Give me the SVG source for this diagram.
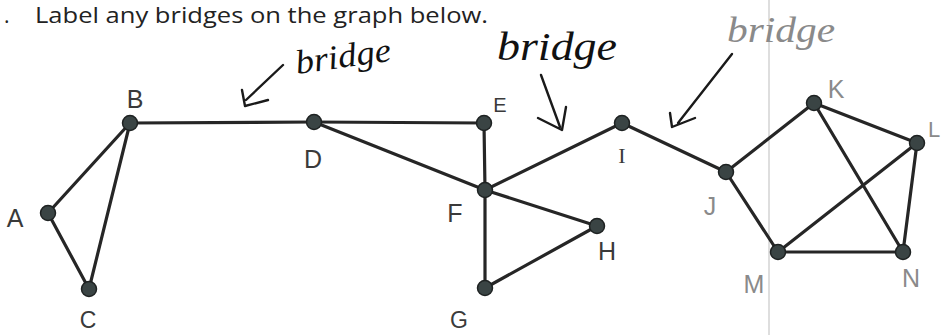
<svg xmlns="http://www.w3.org/2000/svg" width="944" height="335" viewBox="0 0 944 335">
<style>
.edge{stroke:#262626;stroke-width:3.2;stroke-linecap:round}
.node{fill:#3a4444;stroke:#1e2222;stroke-width:1.5}
.lbl{font-family:"Liberation Sans",Arial,sans-serif;font-size:25px;fill:#3a3a3a;text-anchor:middle}
.pen{fill:#8a8a8a}
.hw{font-family:"Liberation Serif","Times New Roman",serif;font-style:italic;fill:#111}
.arrow{fill:none;stroke:#1a1a1a;stroke-width:2.4;stroke-linecap:round;stroke-linejoin:round}
.title{font-family:"Open Sans","Liberation Sans",sans-serif;font-size:21px;fill:#222}
</style>
<rect width="944" height="335" fill="#ffffff"/>
<line x1="769" y1="0" x2="769" y2="335" stroke="#c8c8c8" stroke-width="1.2"/>
<text class="title" x="4" y="23">.</text>
<text class="title" x="35" y="23" textLength="453" lengthAdjust="spacingAndGlyphs">Label any bridges on the graph below.</text>
<g id="connectors">
<line class="edge" x1="48" y1="213" x2="130" y2="123"/>
<line class="edge" x1="48" y1="213" x2="89" y2="289"/>
<line class="edge" x1="130" y1="123" x2="89" y2="289"/>
<line class="edge" x1="130" y1="123" x2="314" y2="122"/>
<line class="edge" x1="314" y1="122" x2="484" y2="123"/>
<line class="edge" x1="314" y1="122" x2="485" y2="190"/>
<line class="edge" x1="484" y1="123" x2="485" y2="190"/>
<line class="edge" x1="485" y1="190" x2="485" y2="288"/>
<line class="edge" x1="485" y1="190" x2="597" y2="226"/>
<line class="edge" x1="485" y1="288" x2="597" y2="226"/>
<line class="edge" x1="485" y1="190" x2="622" y2="123"/>
<line class="edge" x1="622" y1="123" x2="726" y2="172"/>
<line class="edge" x1="726" y1="172" x2="814" y2="103"/>
<line class="edge" x1="726" y1="172" x2="778" y2="252"/>
<line class="edge" x1="814" y1="103" x2="917" y2="143"/>
<line class="edge" x1="814" y1="103" x2="903" y2="252"/>
<line class="edge" x1="917" y1="143" x2="778" y2="252"/>
<line class="edge" x1="917" y1="143" x2="903" y2="252"/>
<line class="edge" x1="778" y1="252" x2="903" y2="252"/>
</g>
<g id="A"><circle class="node" cx="48" cy="213" r="7.5"/><text class="lbl" x="15" y="227">A</text></g>
<g id="B"><circle class="node" cx="130" cy="123" r="7.5"/><text class="lbl" x="135" y="108">B</text></g>
<g id="C"><circle class="node" cx="89" cy="289" r="7.5"/><text class="lbl" x="88" y="328" style="font-size:23px">C</text></g>
<g id="D"><circle class="node" cx="314" cy="122" r="7.5"/><text class="lbl" x="313" y="168">D</text></g>
<g id="E"><circle class="node" cx="484" cy="123" r="7.5"/><text class="lbl" x="500" y="112" style="font-size:20px">E</text></g>
<g id="F"><circle class="node" cx="485" cy="190" r="7.5"/><text class="lbl" x="455" y="222">F</text></g>
<g id="G"><circle class="node" cx="485" cy="288" r="7.5"/><text class="lbl" x="459" y="328" style="font-size:23px">G</text></g>
<g id="H"><circle class="node" cx="597" cy="226" r="7.5" fill="#222"/><text class="lbl" x="607" y="260">H</text></g>
<g id="I"><circle class="node" cx="622" cy="123" r="7.5"/><text class="lbl" x="622" y="163" style="font-family:'Liberation Serif',serif;font-size:22px">I</text></g>
<g id="J"><circle class="node" cx="726" cy="172" r="7.5"/><text class="lbl pen" x="710" y="215">J</text></g>
<g id="K"><circle class="node" cx="814" cy="103" r="7.5"/><text class="lbl pen" x="836" y="98">K</text></g>
<g id="L"><circle class="node" cx="917" cy="143" r="7.5"/><text class="lbl pen" x="928" y="137" style="text-anchor:start;font-size:22px">L</text></g>
<g id="M"><circle class="node" cx="778" cy="252" r="7.5"/><text class="lbl pen" x="754" y="293">M</text></g>
<g id="N"><circle class="node" cx="903" cy="252" r="7.5"/><text class="lbl pen" x="911" y="287">N</text></g>
<g id="annotations">
<path class="arrow" d="M283,65 L246,100 M242,90 L245,106 L268,100"/>
<text class="hw" x="297" y="74" font-size="34" transform="rotate(-8 297 74)" textLength="96" lengthAdjust="spacingAndGlyphs">bridge</text>
<path class="arrow" d="M541,75 L560,127 M538,118 L562,130 L566,107"/>
<text class="hw" x="497" y="60" font-size="40" textLength="120" lengthAdjust="spacingAndGlyphs">bridge</text>
<path class="arrow" d="M732,54 L678,123 M670,113 L672,127 L695,118"/>
<text class="hw" x="727" y="42" font-size="36" style="fill:#8a8a8a" textLength="108" lengthAdjust="spacingAndGlyphs">bridge</text>
</g>
</svg>
